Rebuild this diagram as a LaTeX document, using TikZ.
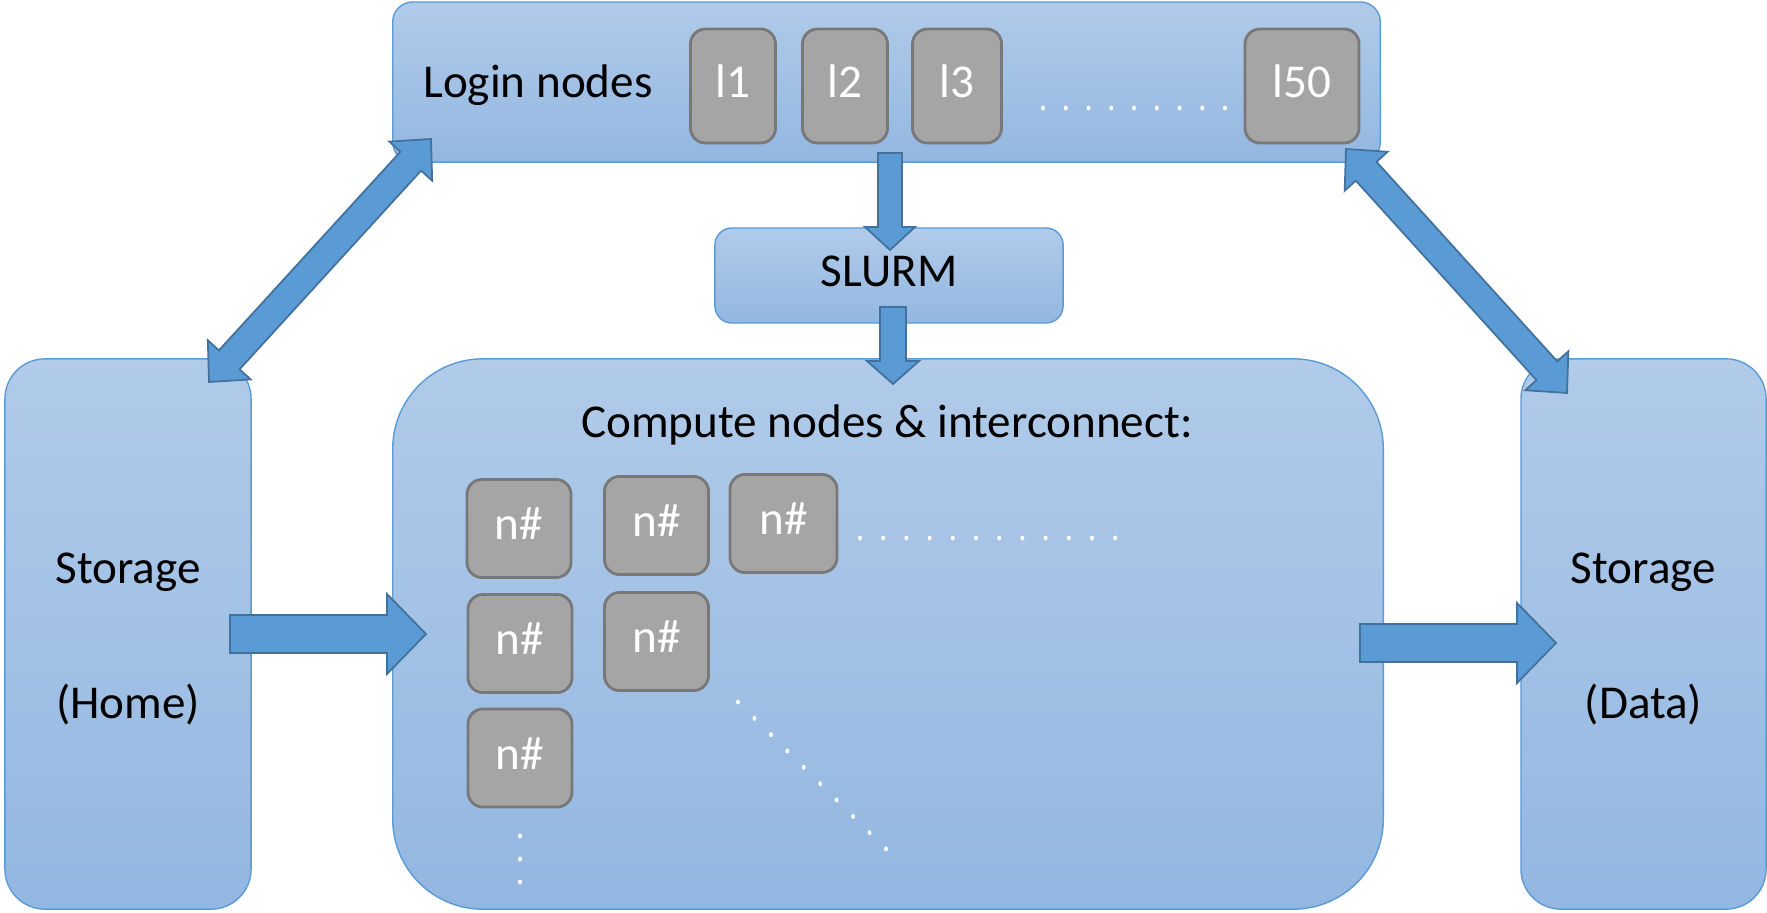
\documentclass[tikz,border=0pt]{standalone}
\usepackage{fontspec}
\setmainfont{Carlito}
\usetikzlibrary{calc}
\definecolor{boxtop}{HTML}{B1CBE9}
\definecolor{boxbot}{HTML}{93B7E1}
\definecolor{boxline}{HTML}{5B9BD5}
\definecolor{arrfill}{HTML}{5B9BD5}
\definecolor{arrline}{HTML}{41719C}
\definecolor{gfill}{HTML}{A5A5A5}
\definecolor{gline}{HTML}{787878}
\newcommand{\fs}{\fontsize{13.4pt}{16pt}\selectfont}
% single-headed block arrow: #1 from, #2 to, #3 shaft half width, #4 head half width, #5 head length
\newcommand{\blockarrow}[5]{%
  \path ($(#2)!#5!(#1)$) coordinate (hb);
  \draw[arr] ($(#1)!#3!90:(#2)$) -- ($(hb)!#3!90:(#2)$) -- ($(hb)!#4!90:(#2)$) -- (#2)
    -- ($(hb)!#4!-90:(#2)$) -- ($(hb)!#3!-90:(#2)$) -- ($(#1)!#3!-90:(#2)$) -- cycle;
}
% double-headed block arrow
\newcommand{\dblarrow}[5]{%
  \path ($(#1)!#5!(#2)$) coordinate (ha) ($(#2)!#5!(#1)$) coordinate (hb);
  \draw[arr] (#1) -- ($(ha)!#4!90:(#2)$) -- ($(ha)!#3!90:(#2)$) -- ($(hb)!#3!90:(#2)$)
    -- ($(hb)!#4!90:(#2)$) -- (#2) -- ($(hb)!#4!-90:(#2)$) -- ($(hb)!#3!-90:(#2)$)
    -- ($(ha)!#3!-90:(#2)$) -- ($(ha)!#4!-90:(#2)$) -- cycle;
}
\begin{document}
\begin{tikzpicture}[x=0.01cm,y=-0.01cm,
  bluebox/.style={draw=boxline, line width=0.4pt, top color=boxtop, bottom color=boxbot, inner sep=0pt},
  graybox/.style={draw=gline, line width=0.8pt, fill=gfill, rounded corners=0.15cm, inner sep=0pt,
    text=white, font=\fs, text height=0.63em, text depth=0pt},
  lnode/.style={graybox, minimum width=0.85cm, minimum height=1.14cm},
  cnode/.style={graybox, minimum width=1.04cm, minimum height=0.98cm},
  lbl/.style={font=\fs, inner sep=0pt, text height=0.63em, text depth=0pt},
  arr/.style={fill=arrfill, draw=arrline, line width=0.5pt, line join=miter},
  wdot/.style={fill=white, draw=none}
]
\useasboundingbox (0,0) rectangle (1767,912);

% blue containers
\node[bluebox, rounded corners=0.2cm, minimum width=9.87cm, minimum height=1.6cm] (login) at (886.5,82) {};
\node[bluebox, rounded corners=0.17cm, minimum width=3.48cm, minimum height=0.95cm] (slurm) at (889,275.5) {};
\node[bluebox, rounded corners=0.9cm, minimum width=9.9cm, minimum height=5.5cm] (compute) at (888,634) {};
\node[bluebox, rounded corners=0.4cm, minimum width=2.46cm, minimum height=5.5cm] (home) at (128,634) {};
\node[bluebox, rounded corners=0.4cm, minimum width=2.45cm, minimum height=5.5cm] (data) at (1643.5,634) {};

% labels
\node[lbl] (loginlbl) at (538,86) {Login nodes};
\node[lbl] (slurmlbl) at (889,275) {SLURM};
\node[lbl] (complbl) at (887,426) {Compute nodes \& interconnect:};
\node[lbl] (homelbla) at (128,572) {Storage};
\node[lbl] (homelblb) at (128,707) {(Home)};
\node[lbl] (datalbla) at (1643.5,572) {Storage};
\node[lbl] (datalblb) at (1643.5,707) {(Data)};

% login nodes
\node[lnode] (l1) at (733,86) {l1};
\node[lnode] (l2) at (845,86) {l2};
\node[lnode, minimum width=0.89cm] (l3) at (957,86) {l3};
\node[lnode, minimum width=1.14cm] (l50) at (1302,86) {l50};

% compute nodes
\node[cnode] (c11) at (519,528.5) {n\#};
\node[cnode] (c12) at (656.5,525.5) {n\#};
\node[cnode, minimum width=1.07cm] (c13) at (783.5,523.5) {n\#};
\node[cnode] (c21) at (520,643.5) {n\#};
\node[cnode] (c22) at (656.5,641.5) {n\#};
\node[cnode] (c31) at (520,758) {n\#};

% dots
\foreach \i in {0,...,8} \fill[wdot] (1043+\i*22.75,108) ellipse [x radius=0.02cm, y radius=0.025cm];
\foreach \i in {0,...,11} \fill[wdot] (860+\i*23.2,538) ellipse [x radius=0.02cm, y radius=0.025cm];
\foreach \i in {0,...,9} \fill[wdot] (738+\i*16.44,702+\i*16.33) ellipse [x radius=0.02cm, y radius=0.025cm];
\foreach \y in {836,859,882} \fill[wdot] (520,\y) ellipse [x radius=0.02cm, y radius=0.025cm];

% arrow end points
\coordinate (ls) at (890,153);   \coordinate (se) at (890,250);
\coordinate (ss) at (893,307);   \coordinate (ce) at (893,384);
\coordinate (hs) at (230,634);   \coordinate (hc) at (426,634);
\coordinate (cs) at (1360,643);  \coordinate (cd) at (1556,643);
\coordinate (dhl) at (209,382);  \coordinate (dlh) at (431,139);
\coordinate (dld) at (1346,149); \coordinate (ddl) at (1567,393);

% arrows
\blockarrow{ls}{se}{0.12cm}{0.25cm}{0.23cm}
\blockarrow{ss}{ce}{0.13cm}{0.26cm}{0.23cm}
\blockarrow{hs}{hc}{0.19cm}{0.40cm}{0.39cm}
\blockarrow{cs}{cd}{0.19cm}{0.40cm}{0.39cm}
\dblarrow{dhl}{dlh}{0.14cm}{0.29cm}{0.30cm}
\dblarrow{dld}{ddl}{0.14cm}{0.29cm}{0.30cm}
\end{tikzpicture}
\end{document}
